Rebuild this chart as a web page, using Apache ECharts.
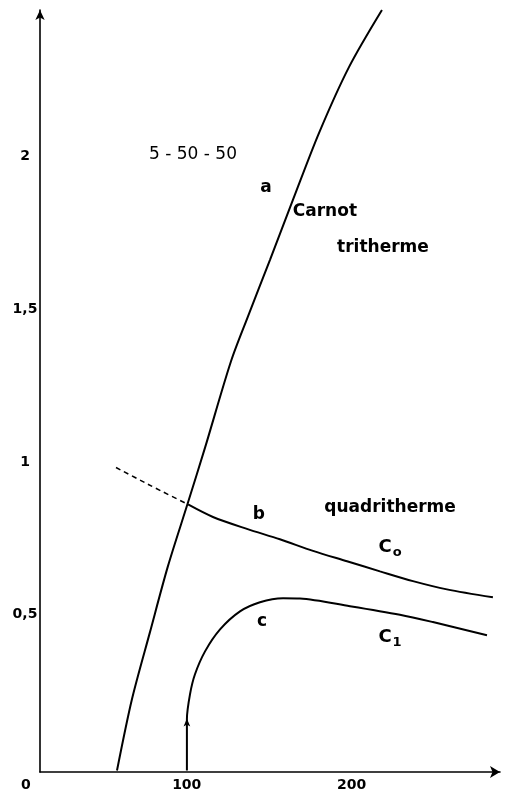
<!DOCTYPE html>
<html lang="fr">
<head>
    <meta charset="UTF-8">
    <title>Carnot tritherme / quadritherme</title>
    <style>
        html, body { margin: 0; padding: 0; background: #fff; }
        #main { width: 505px; height: 792px; }
    </style>
</head>
<body>
<div id="main"></div>
<script src="https://cdn.jsdelivr.net/npm/echarts@6/dist/echarts.min.js"></script>
<script type="text/javascript">
    // courbe a : Carnot tritherme
    var curveA = [[57.7, -0.01], [66.8, 0.224], [77.7, 0.443], [88.6, 0.659], [100.8, 0.868],
        [111.1, 1.047], [126.8, 1.329], [137.1, 1.476], [150.5, 1.662], [164.4, 1.858],
        [180.2, 2.077], [198.4, 2.293], [218.4, 2.480]];
    // courbe b : quadritherme C0 (partie pointillee puis partie pleine)
    var curveBDashed = [[57.1, 0.982], [78.7, 0.921], [100.8, 0.861]];
    var curveB = [[100.8, 0.861], [115.9, 0.820], [136.5, 0.781], [156.5, 0.747], [176.6, 0.709],
        [197.2, 0.675], [217.2, 0.642], [237.2, 0.610], [257.8, 0.583], [285.7, 0.557]];
    // courbe c : C1
    var curveC = [[100.1, -0.01], [100.1, 0.158], [102.0, 0.240], [105.0, 0.305], [111.1, 0.380],
        [120.2, 0.452], [132.3, 0.511], [144.4, 0.541], [158.4, 0.554], [168.7, 0.553],
        [199.0, 0.528], [229.3, 0.500], [249.3, 0.476], [282.1, 0.433]];
    var arrowC = [[100.1, 0.16]];

    var yTicks = [0.5, 1, 1.5, 2];
    var xTicks = [100, 200];

    // textes dans le graphique
    var notes = [
        {text: '5 - 50 - 50', x: 103.8, y: 2.006, bold: false},
        {text: 'a', x: 148.1, y: 1.898, bold: true},
        {text: 'Carnot', x: 183.8, y: 1.820, bold: true},
        {text: 'tritherme', x: 219.0, y: 1.702, bold: true},
        {text: 'b', x: 143.8, y: 0.829, bold: true},
        {text: 'quadritherme', x: 223.3, y: 0.852, bold: true},
        {text: '{m|C}{s|o}', x: 223.3, y: 0.721, bold: true},
        {text: 'c', x: 145.6, y: 0.476, bold: true},
        {text: '{m|C}{s|1}', x: 223.3, y: 0.426, bold: true}
    ];

    var FONT = "'DejaVu Sans', sans-serif";
    var INK = '#000';

    var myChart = echarts.init(document.getElementById('main'));

    var option = {
        animation: false,
        backgroundColor: '#fff',
        grid: {left: 40, right: 5, top: 10, bottom: 19},
        xAxis: {
            type: 'value',
            min: 11,
            max: 290,
            splitLine: {show: false},
            axisLine: {onZero: false, symbol: ['none', 'arrow'], symbolSize: [9, 10], lineStyle: {color: INK, width: 1.6}},
            axisTick: {show: false},
            axisLabel: {
                customValues: xTicks,
                margin: 6,
                color: INK,
                fontFamily: FONT,
                fontWeight: 'bold',
                fontSize: 14
            }
        },
        yAxis: {
            type: 'value',
            min: -0.015,
            max: 2.48,
            splitLine: {show: false},
            axisLine: {onZero: false, symbol: ['none', 'arrow'], symbolSize: [7, 10], lineStyle: {color: INK, width: 1.6}},
            axisTick: {show: false},
            axisLabel: {
                customValues: yTicks,
                margin: 15,
                align: 'center',
                color: INK,
                fontFamily: FONT,
                fontWeight: 'bold',
                fontSize: 14,
                formatter: function (v) { return String(v).replace('.', ','); }
            }
        },
        graphic: [{
            type: 'text',
            left: 21,
            top: 778,
            style: {text: '0', fill: INK, font: 'bold 14px ' + FONT}
        }],
        series: [{
            name: 'a', type: 'line', data: curveA, symbol: 'none', smooth: 0.3,
            lineStyle: {color: INK, width: 2}
        }, {
            name: 'b-pointille', type: 'line', data: curveBDashed, symbol: 'none', smooth: 0.2,
            lineStyle: {color: INK, width: 1.5, type: [5, 4]}
        }, {
            name: 'b', type: 'line', data: curveB, symbol: 'none', smooth: 0.3,
            lineStyle: {color: INK, width: 2}
        }, {
            name: 'c', type: 'line', data: curveC, symbol: 'none', smooth: 0.3,
            lineStyle: {color: INK, width: 2}
        }, {
            name: 'fleche', type: 'scatter', data: arrowC, symbol: 'arrow', symbolSize: [5, 8],
            itemStyle: {color: INK, opacity: 1}
        }, {
            name: 'textes', type: 'scatter', symbolSize: 0,
            itemStyle: {opacity: 1},
            data: notes.map(function (n) {
                return {
                    value: [n.x, n.y],
                    label: {
                        show: true,
                        position: 'inside',
                        formatter: n.text,
                        color: INK,
                        fontFamily: FONT,
                        fontWeight: n.bold ? 'bold' : 'normal',
                        fontSize: 17,
                        rich: {
                            m: {fontFamily: FONT, fontWeight: 'bold', fontSize: 18, color: INK},
                            s: {fontFamily: FONT, fontWeight: 'bold', fontSize: 13, color: INK, padding: [10, 0, 0, 1]}
                        }
                    }
                };
            })
        }]
    };

    myChart.setOption(option);
</script>
</body>
</html>
